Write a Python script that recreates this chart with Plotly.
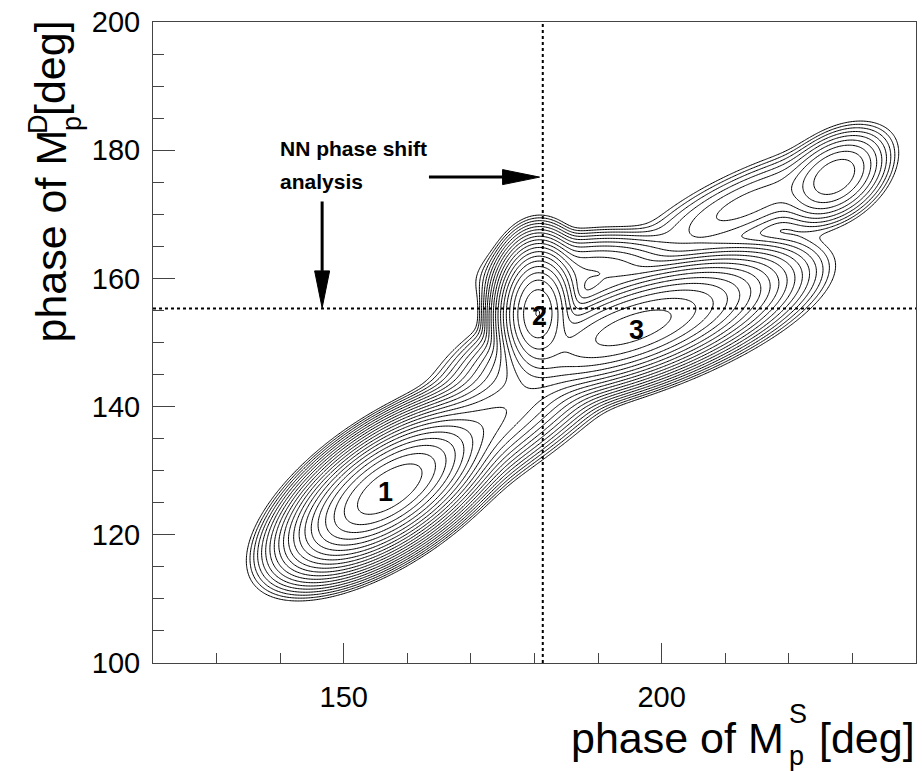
import numpy as np
import plotly.graph_objects as go

# ---- axis ranges ----
X_RANGE = [120, 240]
Y_RANGE = [100, 200]

# ---- likelihood components (data units, degrees) ----
comp_name = ["sol1", "sol2", "sol3", "sol4", "tail4", "band13", "shoulder23"]
comp_x = [157.2, 180.5, 195.6, 227.3, 214.0, 171.0, 189.0]
comp_y = [127.1, 154.6, 152.3, 175.8, 171.8, 136.5, 161.0]
comp_sig_major = [5.8, 3.6, 8.2, 3.7, 8.5, 10.0, 6.0]
comp_sig_minor = [2.6, 2.2, 2.65, 2.4, 2.3, 2.8, 2.3]
comp_angle = [34, 88, 19, 36, 24, 33, 5]
comp_weight = [1.0, 0.37, 0.18, 0.0037, 0.0007, 0.02, 0.004]

# contour levels (in -2 ln L units)
level_start, level_end, level_step = 1, 20, 1

# NN phase-shift analysis reference values
nn_phase_s = 181.3
nn_phase_d = 155.3

# solution labels
sol_text = ["1", "2", "3"]
sol_x = [156.5, 180.8, 196.1]
sol_y = [126.7, 154.1, 152.0]

FONT = "Liberation Sans, Arial, Helvetica, sans-serif"

xg = np.arange(X_RANGE[0], X_RANGE[1] + 1e-9, 0.25)
yg = np.arange(Y_RANGE[0], Y_RANGE[1] + 1e-9, 0.25)
XX, YY = np.meshgrid(xg, yg)
L = np.zeros_like(XX)
for cx, cy, sa, sb, ang, w in zip(comp_x, comp_y, comp_sig_major, comp_sig_minor,
                                  comp_angle, comp_weight):
    t = np.radians(ang)
    dx, dy = XX - cx, YY - cy
    u = dx * np.cos(t) + dy * np.sin(t)
    v = -dx * np.sin(t) + dy * np.cos(t)
    L += w * np.exp(-0.5 * ((u / sa) ** 2 + (v / sb) ** 2))
Z = np.minimum(-2 * np.log(L + 1e-300), 60)

fig = go.Figure()
fig.add_trace(go.Contour(
    x=xg, y=yg, z=Z,
    contours=dict(coloring="lines", start=level_start, end=level_end, size=level_step),
    colorscale=[[0, "black"], [1, "black"]],
    showscale=False, line=dict(width=1, smoothing=1), hoverinfo="skip",
))

# dotted reference lines
fig.add_shape(type="line", xref="x", yref="y", x0=nn_phase_s, x1=nn_phase_s,
              y0=Y_RANGE[0], y1=Y_RANGE[1], line=dict(color="black", width=2, dash="dot"))
fig.add_shape(type="line", xref="x", yref="y", x0=X_RANGE[0], x1=X_RANGE[1],
              y0=nn_phase_d, y1=nn_phase_d, line=dict(color="black", width=2, dash="dot"))

# arrows (shaft + narrow filled head)
arrow_tail = [(163.4, 175.8), (146.6, 172.0)]
arrow_tip = [(180.8, 175.8), (146.6, 155.4)]
HEAD_LEN_PX, HEAD_HALF_PX = 37, 7.5
SX, SY = 763 / 120.0, 641 / 100.0  # px per data unit
for (x0, y0), (x1, y1) in zip(arrow_tail, arrow_tip):
    dxp, dyp = (x1 - x0) * SX, (y1 - y0) * SY
    n = np.hypot(dxp, dyp)
    ux, uy = dxp / n, dyp / n
    bx, by = x1 - ux * HEAD_LEN_PX / SX, y1 - uy * HEAD_LEN_PX / SY
    fig.add_shape(type="line", xref="x", yref="y", x0=x0, y0=y0, x1=bx, y1=by,
                  line=dict(color="black", width=3))
    px1, py1 = bx - uy * HEAD_HALF_PX / SX, by + ux * HEAD_HALF_PX / SY
    px2, py2 = bx + uy * HEAD_HALF_PX / SX, by - ux * HEAD_HALF_PX / SY
    fig.add_shape(type="path", xref="x", yref="y",
                  path="M %f %f L %f %f L %f %f Z" % (x1, y1, px1, py1, px2, py2),
                  fillcolor="black", line=dict(color="black", width=1))

ann = []
for t, x, y in zip(sol_text, sol_x, sol_y):
    ann.append(dict(x=x, y=y, xref="x", yref="y", text="<b>%s</b>" % t, showarrow=False,
                    font=dict(family=FONT, size=27, color="black")))

ann.append(dict(x=139.6, y=180.2, xref="x", yref="y", text="<b>NN phase shift</b>",
                showarrow=False, xanchor="left", font=dict(family=FONT, size=21, color="black")))
ann.append(dict(x=139.6, y=175.1, xref="x", yref="y", text="<b>analysis</b>",
                showarrow=False, xanchor="left", font=dict(family=FONT, size=21, color="black")))


def px(xp):
    return (xp - 153) / 763.0


def py(yp):
    return (663 - yp) / 641.0


TF = 43
SF = 27
ann += [
    dict(x=px(786), y=py(738), xref="paper", yref="paper", text="phase of M", showarrow=False,
         xanchor="right", yanchor="middle", font=dict(family=FONT, size=TF, color="black")),
    dict(x=px(787), y=py(714), xref="paper", yref="paper", text="S", showarrow=False,
         xanchor="left", yanchor="middle", font=dict(family=FONT, size=SF, color="black")),
    dict(x=px(787), y=py(756), xref="paper", yref="paper", text="p", showarrow=False,
         xanchor="left", yanchor="middle", font=dict(family=FONT, size=SF, color="black")),
    dict(x=px(917), y=py(738), xref="paper", yref="paper", text="[deg]", showarrow=False,
         xanchor="right", yanchor="middle", font=dict(family=FONT, size=TF, color="black")),
    dict(x=px(50), y=py(345), xref="paper", yref="paper", text="phase of M", showarrow=False,
         textangle=-90, xanchor="center", yanchor="bottom", font=dict(family=FONT, size=TF, color="black")),
    dict(x=px(38), y=py(124), xref="paper", yref="paper", text="D", showarrow=False,
         textangle=-90, xanchor="center", yanchor="middle", font=dict(family=FONT, size=SF, color="black")),
    dict(x=px(72), y=py(124), xref="paper", yref="paper", text="p", showarrow=False,
         textangle=-90, xanchor="center", yanchor="middle", font=dict(family=FONT, size=SF, color="black")),
    dict(x=px(50), y=py(18), xref="paper", yref="paper", text="[deg]", showarrow=False,
         textangle=-90, xanchor="center", yanchor="top", font=dict(family=FONT, size=TF, color="black")),
]

axis_common = dict(showline=True, mirror=True, linecolor="#444", linewidth=1, showgrid=False,
                   zeroline=False, ticks="inside", tickcolor="#444", tickwidth=1,
                   tickfont=dict(family=FONT, size=29, color="black"))

fig.update_layout(
    width=922, height=771,
    margin=dict(l=153, r=6, t=22, b=108),
    paper_bgcolor="white", plot_bgcolor="white",
    showlegend=False,
    annotations=ann,
    xaxis=dict(range=X_RANGE, tick0=0, dtick=50, ticklen=20, ticklabelstandoff=8,
               minor=dict(tick0=0, dtick=10, ticklen=10, ticks="inside", tickcolor="#444"),
               **axis_common),
    yaxis=dict(range=Y_RANGE, tick0=0, dtick=20, ticklen=22, ticklabelstandoff=6,
               minor=dict(tick0=0, dtick=5, ticklen=11, ticks="inside", tickcolor="#444"),
               **axis_common),
)

fig.write_html("out.html")
